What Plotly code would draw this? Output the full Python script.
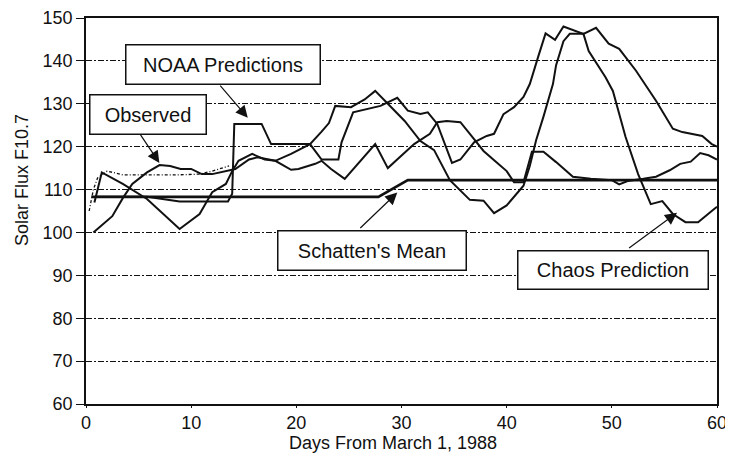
import plotly.graph_objects as go

FONT = "Liberation Sans, Arial, Helvetica, sans-serif"
INK = "#111111"

# Наблюдения
obs_day = [0.7, 2.5, 3.5, 4.4, 5.8, 7.0, 8.0, 9.0, 10.0, 11.0, 12.0, 13.3, 14.2, 15.5, 16.3,
           18.0, 19.5, 20.2, 21.8, 22.4, 23.3, 24.6, 27.5, 28.7, 31.2, 32.7, 33.4, 34.3, 35.6,
           36.5, 37.8, 39.0, 40.0, 40.7, 41.6, 42.4, 43.5, 44.7, 46.3, 48.0, 50.0, 50.7, 51.5,
           53.0, 54.2, 55.5, 56.5, 57.5, 58.4, 59.2, 60.0]
obs_val = [100.0, 103.8, 108.0, 111.3, 114.0, 115.7, 115.5, 114.8, 114.8, 113.6, 113.6, 114.3,
           114.8, 117.0, 117.5, 116.7, 114.6, 114.8, 116.0, 116.7, 114.8, 112.5, 120.6, 115.0,
           120.6, 123.0, 125.7, 126.0, 125.7, 123.0, 119.0, 116.4, 114.3, 111.7, 111.7, 118.8,
           118.8, 116.4, 113.0, 112.5, 112.2, 111.2, 112.0, 112.5, 113.0, 114.5, 116.0, 116.5,
           118.5, 118.0, 117.0]

# Прогноз NOAA
noaa_day = [1.0, 5.8, 8.9, 13.5, 13.9, 14.1, 16.7, 17.6, 21.3, 22.4, 24.0, 24.3, 25.4, 28.0,
            29.6, 30.6, 31.8, 32.5, 33.4, 34.8, 35.6, 36.9, 38.1, 38.8, 39.7, 40.7, 41.6, 42.2,
            43.0, 43.7, 44.6, 45.4, 47.3, 48.5, 49.7, 50.7, 52.3, 54.2, 55.8, 56.7, 58.6, 59.5,
            60.0]
noaa_val = [108.3, 108.3, 107.2, 107.2, 109.0, 125.3, 125.3, 120.6, 120.6, 117.0, 117.0, 121.0,
            128.0, 129.5, 131.4, 128.4, 127.6, 128.0, 125.3, 116.2, 117.0, 121.0, 122.5, 123.0,
            127.6, 129.2, 131.6, 134.6, 141.0, 146.4, 144.9, 148.0, 146.3, 147.7, 144.0, 142.8,
            137.7, 130.7, 124.2, 123.4, 122.5, 120.6, 120.0]

# Хаотический прогноз
chaos_day = [0.8, 1.5, 3.5, 5.8, 8.9, 9.8, 10.8, 11.2, 12.0, 13.3, 13.9, 14.5, 15.8, 17.0,
             18.0, 19.5, 21.3, 22.4, 23.1, 23.7, 25.2, 26.5, 27.5, 28.7, 30.3, 31.8, 33.1,
             34.6, 36.5, 37.8, 38.8, 40.0, 41.6, 42.2, 42.8, 43.5, 44.4, 44.7, 45.4, 46.0,
             47.3, 47.8, 49.4, 50.1, 51.3, 52.5, 53.7, 54.8, 55.8, 57.0, 58.2, 59.5, 60.0]
chaos_val = [107.0, 114.0, 111.3, 107.8, 100.8, 102.4, 104.3, 106.0, 109.4, 111.3, 114.3,
             116.7, 118.3, 117.0, 116.7, 118.3, 120.6, 123.5, 125.5, 129.5, 129.2, 131.0,
             133.0, 130.0, 126.0, 121.3, 119.2, 112.2, 107.6, 107.4, 104.5, 106.3, 110.9,
             115.5, 121.5, 127.0, 134.6, 139.0, 144.6, 146.3, 146.3, 142.3, 136.2, 133.0,
             122.3, 113.6, 106.6, 107.3, 104.3, 102.4, 102.4, 105.0, 106.0]

# Среднее Шаттена
schatten_day = [0.5, 27.8, 30.6, 60.0]
schatten_val = [108.3, 108.3, 112.2, 112.2]

# Пунктир в начале графика
dotted_day = [0.3, 0.7, 1.1, 2.0, 2.9, 3.5, 8.4, 10.8, 12.0, 13.6]
dotted_val = [105.0, 110.0, 112.7, 114.3, 113.8, 113.4, 113.4, 113.6, 114.3, 115.5]

x_ticks = [0, 10, 20, 30, 40, 50, 60]
y_ticks = [60, 70, 80, 90, 100, 110, 120, 130, 140, 150]

x_title = "Days From March 1, 1988"
y_title = "Solar Flux F10.7"

# Подписи: текст, центр рамки (день, значение), ширина/высота рамки, начало и конец стрелки
labels = ["NOAA Predictions", "Observed", "Schatten's Mean", "Chaos Prediction"]
label_pos = [(13.07, 139.2), (5.9, 127.6), (27.2, 95.7), (50.1, 91.2)]
label_size = [(193, 38), (115, 38), (187, 38), (189, 37)]
arrow_from = [(12.64, 134.6), (5.09, 123.1), (25.94, 100.7), (51.5, 96.1)]
arrow_to = [(15.38, 126.75), (6.98, 116.2), (29.6, 109.3), (56.2, 104.6)]

fig = go.Figure()

series = [
    ("Schatten's Mean", schatten_day, schatten_val, 2.6, "solid"),
    ("dotted", dotted_day, dotted_val, 1.3, "3px,2px,1px,2px"),
    ("Observed", obs_day, obs_val, 2.0, "solid"),
    ("NOAA Predictions", noaa_day, noaa_val, 2.0, "solid"),
    ("Chaos Prediction", chaos_day, chaos_val, 2.0, "solid"),
]
for name, days, vals, width, dash in series:
    fig.add_trace(go.Scatter(x=days, y=vals, mode="lines", name=name,
                             line=dict(color=INK, width=width, dash=dash)))

for text, (cx, cy), (w, h), (ax, ay), (tx, ty) in zip(labels, label_pos, label_size,
                                                       arrow_from, arrow_to):
    fig.add_annotation(x=tx, y=ty, ax=ax, ay=ay, xref="x", yref="y", axref="x", ayref="y",
                       text="", showarrow=True, arrowhead=2, arrowsize=2.0, arrowwidth=1.2,
                       arrowcolor=INK)
    fig.add_annotation(x=cx, y=cy, xref="x", yref="y", text=text, showarrow=False,
                       width=w, height=h, borderpad=0, bordercolor=INK, borderwidth=1.5,
                       bgcolor="white", font=dict(family=FONT, size=20, color=INK))

# Заголовки осей как подписи, чтобы точно держать их положение
fig.add_annotation(text=x_title, xref="paper", yref="paper", x=0.486, y=0,
                   xanchor="center", yanchor="middle", yshift=-39, showarrow=False,
                   font=dict(family=FONT, size=18, color=INK))
fig.add_annotation(text=y_title, xref="paper", yref="paper", x=0, y=0.58,
                   xanchor="center", yanchor="middle", xshift=-64, textangle=-90,
                   showarrow=False, font=dict(family=FONT, size=18, color=INK))

# Страница даёт отступ 8px у body, поэтому фигура меньше окна
fig.update_layout(
    width=725, height=445,
    margin=dict(l=78, r=16, t=10, b=49),
    showlegend=False,
    plot_bgcolor="white", paper_bgcolor="white",
    font=dict(family=FONT, size=18, color=INK),
)
fig.update_xaxes(
    range=[0, 60], tickvals=x_ticks, ticks="outside", ticklen=2, tickcolor=INK,
    showline=True, mirror=True, linecolor=INK, linewidth=1.5,
    showgrid=False, zeroline=False, automargin=False, ticklabeloverflow="allow",
    tickfont=dict(family=FONT, size=18, color=INK),
)
fig.update_yaxes(
    range=[60, 150], tickvals=y_ticks, ticks="outside", ticklen=8, tickcolor=INK,
    showline=True, mirror=True, linecolor=INK, linewidth=1.5,
    showgrid=True, gridcolor=INK, gridwidth=1, griddash="6px,2px,2px,2px",
    zeroline=False, automargin=False, ticklabeloverflow="allow",
    tickfont=dict(family=FONT, size=18, color=INK),
)

fig.write_html("out.html")
